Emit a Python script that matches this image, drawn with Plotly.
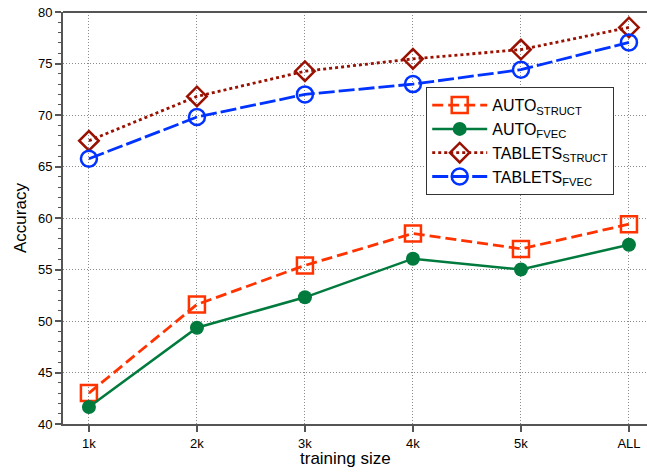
import plotly.graph_objects as go

categories = ["1k", "2k", "3k", "4k", "5k", "ALL"]
auto_struct = [43.0, 51.6, 55.4, 58.5, 57.0, 59.4]
auto_fvec = [41.65, 49.35, 52.3, 56.05, 55.0, 57.4]
tablets_struct = [67.5, 71.8, 74.25, 75.45, 76.35, 78.5]
tablets_fvec = [65.75, 69.8, 72.0, 73.0, 74.4, 77.05]

xs = list(range(len(categories)))
font = "Liberation Sans, Arial, sans-serif"

fig = go.Figure()
fig.add_trace(go.Scatter(
    x=xs, y=auto_struct, name="AUTO<sub>STRUCT</sub>", mode="lines+markers",
    line=dict(color="#ff3300", width=2.8, dash="11px,5px"),
    marker=dict(symbol="square-open", size=16, color="#ff3300", line=dict(width=2.5)),
))
fig.add_trace(go.Scatter(
    x=xs, y=auto_fvec, name="AUTO<sub>FVEC</sub>", mode="lines+markers",
    line=dict(color="#007a3d", width=2.5),
    marker=dict(symbol="circle", size=14, color="#007a3d"),
))
fig.add_trace(go.Scatter(
    x=xs, y=tablets_struct, name="TABLETS<sub>STRUCT</sub>", mode="lines+markers",
    line=dict(color="#991100", width=2.8, dash="3px,3px"),
    marker=dict(symbol="diamond-open", size=15, color="#991100", line=dict(width=2.5)),
))
fig.add_trace(go.Scatter(
    x=xs, y=tablets_fvec, name="TABLETS<sub>FVEC</sub>", mode="lines+markers",
    line=dict(color="#0033ff", width=2.8, dash="16px,4px"),
    marker=dict(symbol="circle-open", size=16, color="#0033ff", line=dict(width=2.5)),
))

grid = dict(showgrid=True, gridcolor="#8a8a8a", griddash="1px,2px", gridwidth=1)

fig.update_layout(
    width=647, height=472,
    margin=dict(l=63, r=0, t=12, b=48, autoexpand=False),
    plot_bgcolor="white", paper_bgcolor="white",
    font=dict(family=font, size=13, color="black"),
    showlegend=True,
    legend=dict(
        x=0.6216, y=0.818, xanchor="left", yanchor="top",
        bordercolor="#333333", borderwidth=1.2, bgcolor="white",
        font=dict(size=16, family=font),
        tracegroupgap=0, itemwidth=55,
    ),
    xaxis=dict(
        tickmode="array", tickvals=xs, ticktext=categories,
        range=[-0.24, 5.167], automargin=False,
        showline=True, linecolor="#555555", linewidth=2,
        ticks="outside", ticklen=6, tickwidth=1.5, tickcolor="#555555",
        zeroline=False, mirror=False,
        tickfont=dict(size=13),
        **grid,
    ),
    yaxis=dict(
        range=[40, 80], dtick=5, tick0=40, automargin=False,
        showline=True, linecolor="#555555", linewidth=2,
        ticks="outside", ticklen=6, tickwidth=1.5, tickcolor="#555555",
        minor=dict(dtick=1, ticks="outside", ticklen=3, tickcolor="#555555", tickwidth=1.2, showgrid=False),
        zeroline=False,
        tickfont=dict(size=13),
        **grid,
    ),
    annotations=[
        dict(text="training size", xref="paper", yref="paper", x=0.483, y=0,
             yshift=-34, xanchor="center", yanchor="middle", showarrow=False,
             font=dict(size=17, family=font)),
        dict(text="Accuracy", xref="paper", yref="paper", x=0, y=0.5,
             xshift=-43, xanchor="center", yanchor="middle", textangle=-90,
             showarrow=False, font=dict(size=17, family=font)),
    ],
)
fig.add_shape(type="line", xref="paper", yref="paper", x0=0, x1=1, y0=1, y1=1,
              line=dict(color="#555555", width=2))

fig.write_html("out.html", config={"displayModeBar": False},
               post_script="document.body.style.margin='0';document.body.style.overflow='hidden';")
